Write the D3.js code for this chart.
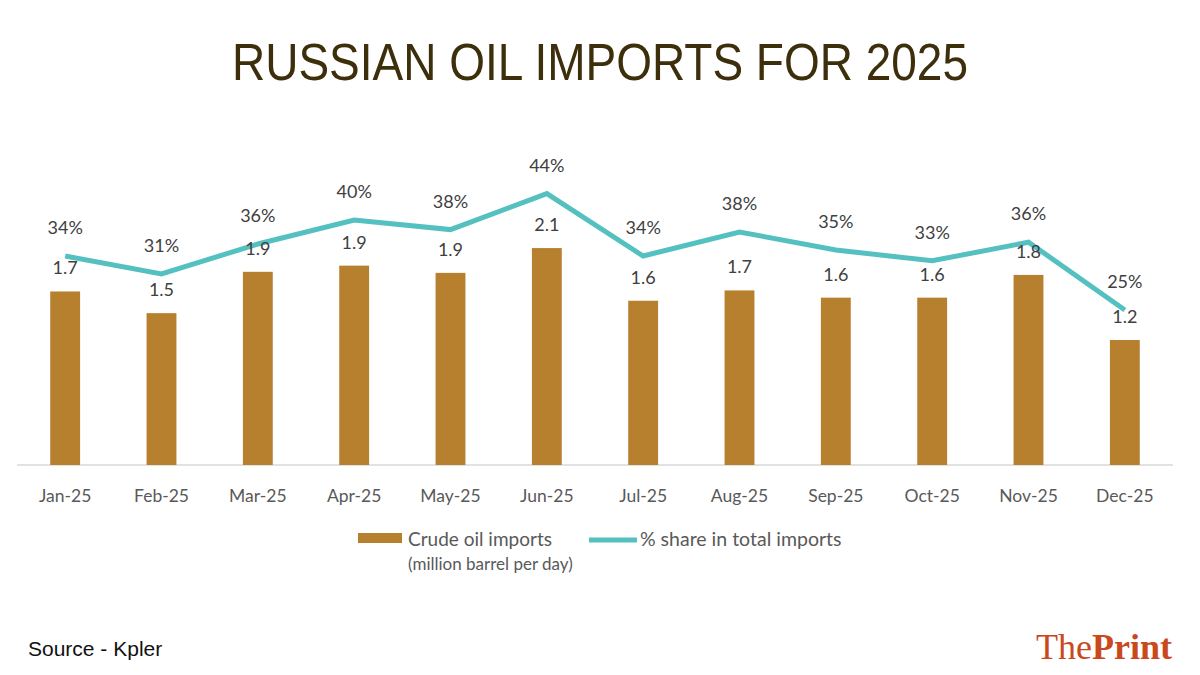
<!DOCTYPE html>
<html>
<head>
<meta charset="utf-8">
<script src="https://cdn.jsdelivr.net/npm/d3@7"></script>
<style>
  body { margin: 0; background: #fff; }
  svg { display: block; }
</style>
</head>
<body>
<div id="chart"></div>
<script>
// data
const months = ["Jan-25", "Feb-25", "Mar-25", "Apr-25", "May-25", "Jun-25",
                "Jul-25", "Aug-25", "Sep-25", "Oct-25", "Nov-25", "Dec-25"];
const crudeImports = [1.68, 1.47, 1.87, 1.93, 1.86, 2.10, 1.59, 1.69, 1.62, 1.62, 1.84, 1.21];
const shareTotal = [34, 31, 36, 40, 38.4, 44.4, 34, 38, 35, 33.2, 36.3, 25];

const W = 1200, H = 675;
const margin = { top: 160, right: 27, bottom: 210, left: 17 };
const width = W - margin.left - margin.right;
const height = H - margin.top - margin.bottom;

const svg = d3.select("#chart")
  .append("svg")
    .attr("width", W)
    .attr("height", H);

const g = svg.append("g")
  .attr("transform", `translate(${margin.left},${margin.top})`);

// title
svg.append("text")
  .attr("x", 232)
  .attr("y", 80)
  .attr("font-family", "Liberation Sans, Arial, sans-serif")
  .attr("font-size", 52)
  .attr("textLength", 736)
  .attr("lengthAdjust", "spacingAndGlyphs")
  .attr("fill", "#3d2f0c")
  .text("RUSSIAN OIL IMPORTS FOR 2025");

// scales
const x = d3.scaleBand()
  .domain(months)
  .range([0, width])
  .paddingInner(0.69)
  .paddingOuter(0.345);

const y = d3.scaleLinear()
  .domain([0, 3])
  .range([height, height - 3 * 103.3]);

const y2 = d3.scaleLinear()
  .domain([0, 50])
  .range([height - 5, height - 5 - 300]);

// baseline
g.append("line")
  .attr("x1", 0)
  .attr("x2", width)
  .attr("y1", height)
  .attr("y2", height)
  .attr("stroke", "#d9d9d9")
  .attr("stroke-width", 1.5);

// x labels
const xAxis = g.append("g")
  .attr("transform", `translate(0,${height})`)
  .call(d3.axisBottom(x).tickSize(0).tickPadding(25));
xAxis.select(".domain").remove();
xAxis.selectAll("text")
  .attr("font-family", "Lato, Open Sans, sans-serif")
  .attr("font-size", 17.5)
  .attr("fill", "#595959");

// bars
g.selectAll(".bar")
  .data(crudeImports)
  .enter()
  .append("rect")
    .attr("class", "bar")
    .attr("x", (d, i) => x(months[i]))
    .attr("y", d => y(d))
    .attr("width", x.bandwidth())
    .attr("height", d => height - y(d))
    .attr("fill", "#b7802f");

// line
const line = d3.line()
  .x((d, i) => x(months[i]) + x.bandwidth() / 2)
  .y(d => y2(d));

g.append("path")
  .datum(shareTotal)
  .attr("fill", "none")
  .attr("stroke", "#55c0c0")
  .attr("stroke-width", 5)
  .attr("stroke-linejoin", "miter")
  .attr("d", line);

// bar labels
g.selectAll(".barlabel")
  .data(crudeImports)
  .enter()
  .append("text")
    .attr("class", "barlabel")
    .attr("x", (d, i) => x(months[i]) + x.bandwidth() / 2)
    .attr("y", d => y(d) - 17)
    .attr("text-anchor", "middle")
    .attr("font-family", "Lato, Open Sans, sans-serif")
    .attr("font-size", 18)
    .attr("fill", "#404040")
    .text(d => d3.format(".1f")(d));

// line labels
g.selectAll(".linelabel")
  .data(shareTotal)
  .enter()
  .append("text")
    .attr("class", "linelabel")
    .attr("x", (d, i) => x(months[i]) + x.bandwidth() / 2)
    .attr("y", d => y2(d) - 22)
    .attr("text-anchor", "middle")
    .attr("font-family", "Lato, Open Sans, sans-serif")
    .attr("font-size", 18)
    .attr("fill", "#404040")
    .text(d => Math.round(d) + "%");

// legend
const legend = svg.append("g")
  .attr("font-family", "Lato, Open Sans, sans-serif")
  .attr("fill", "#595959");

legend.append("rect")
  .attr("x", 358)
  .attr("y", 533)
  .attr("width", 44)
  .attr("height", 10)
  .attr("fill", "#b7802f");

legend.append("text")
  .attr("x", 408)
  .attr("y", 546)
  .attr("font-size", 19)
  .text("Crude oil imports");

legend.append("text")
  .attr("x", 408)
  .attr("y", 570)
  .attr("font-size", 17)
  .text("(million barrel per day)");

legend.append("line")
  .attr("x1", 589)
  .attr("x2", 637)
  .attr("y1", 540)
  .attr("y2", 540)
  .attr("stroke", "#55c0c0")
  .attr("stroke-width", 5);

legend.append("text")
  .attr("x", 640)
  .attr("y", 546)
  .attr("font-size", 19.5)
  .text("% share in total imports");

// footer
svg.append("text")
  .attr("x", 28)
  .attr("y", 656)
  .attr("font-family", "Liberation Sans, Arial, sans-serif")
  .attr("font-size", 21)
  .attr("fill", "#111")
  .text("Source - Kpler");

const logo = svg.append("text")
  .attr("x", 1172)
  .attr("y", 659)
  .attr("text-anchor", "end")
  .attr("font-family", "Liberation Serif, DejaVu Serif, serif")
  .attr("font-size", 36)
  .attr("fill", "#c9491d");
logo.append("tspan").text("The");
logo.append("tspan").attr("font-weight", "bold").text("Print");
</script>
</body>
</html>
